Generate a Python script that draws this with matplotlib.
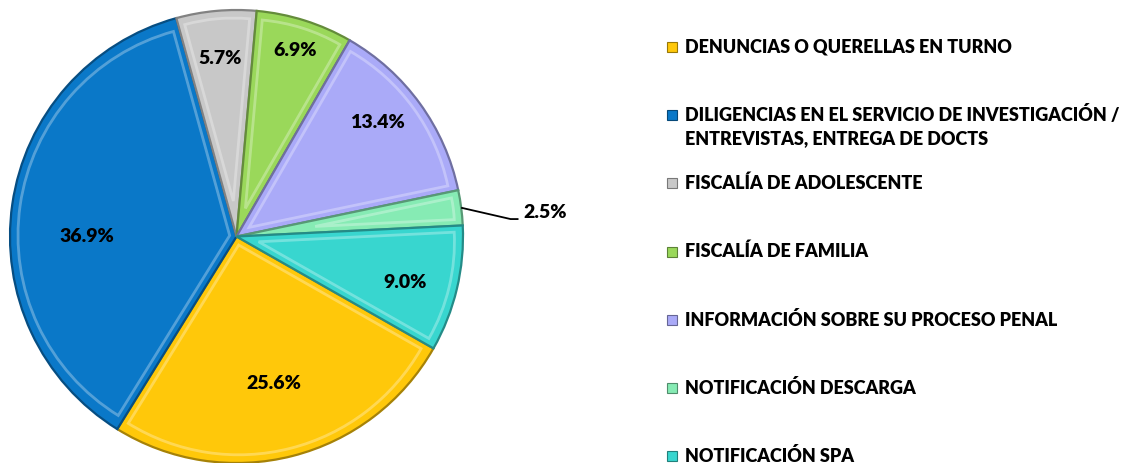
import numpy as np
import matplotlib.pyplot as plt
import matplotlib.colors as mcolors
from matplotlib.patches import Wedge, Rectangle

# Datos
categorias = [
    'DENUNCIAS O QUERELLAS EN TURNO',
    'DILIGENCIAS EN EL SERVICIO DE INVESTIGACIÓN /\nENTREVISTAS, ENTREGA DE DOCTS',
    'FISCALÍA DE ADOLESCENTE',
    'FISCALÍA DE FAMILIA',
    'INFORMACIÓN SOBRE SU PROCESO PENAL',
    'NOTIFICACIÓN DESCARGA',
    'NOTIFICACIÓN SPA',
]
porcentajes = [25.6, 36.9, 5.7, 6.9, 13.4, 2.5, 9.0]
colores = ['#FFC80A', '#0A78C8', '#C8C8C8', '#9AD85A', '#AAAAF8', '#86EBB4', '#38D6CF']

# Estilo
plt.rcParams['font.family'] = ['Lato', 'DejaVu Sans']

def assombrir(c, f=0.7):
    r, g, b = mcolors.to_rgb(c)
    return (r * f, g * f, b * f)

def eclaircir(c, f=0.45):
    r, g, b = mcolors.to_rgb(c)
    return (r + (1 - r) * f, g + (1 - g) * f, b + (1 - b) * f)

fig = plt.figure(figsize=(11.3, 4.63), dpi=100)
W, H = 1130, 463
cx, cy, rpx = 236.5, 236.5, 226.5
ax = fig.add_axes([(cx - rpx) / W, (H - cy - rpx) / H, 2 * rpx / W, 2 * rpx / H])

wedges, _ = ax.pie(porcentajes, colors=colores, startangle=-29.6, counterclock=False,
                   radius=1.0, wedgeprops=dict(linewidth=1.6))
ax.set_xlim(-1, 1)
ax.set_ylim(-1, 1)
ax.set_aspect('equal')
ax.axis('off')

# effet biseau approximatif
for w, c in zip(wedges, colores):
    w.set_edgecolor(assombrir(c, 0.65))
    mid = np.deg2rad((w.theta1 + w.theta2) / 2)
    demi = np.deg2rad(w.theta2 - w.theta1) / 2
    d = min(0.028 / np.sin(min(demi, np.pi / 2)), 0.35)
    hl = Wedge((d * np.cos(mid), d * np.sin(mid)), 0.965 - d,
               w.theta1, w.theta2, fill=False,
               edgecolor=mcolors.to_rgba(eclaircir(c, 0.5), 0.6), linewidth=2.0)
    ax.add_patch(hl)
    hl.set_clip_path(w)

# Étiquettes
rayons = [0.67, 0.66, 0.79, 0.86, 0.80, None, 0.77]
decal = [0, 8, 0, 0, 3, 0, -2]
for w, p, r, d in zip(wedges, porcentajes, rayons, decal):
    ang = np.deg2rad((w.theta1 + w.theta2) / 2 + d)
    if r is None:
        # étiquette extérieure avec ligne de rappel
        ax.plot([np.cos(ang), 1.21, 1.245], [np.sin(ang), 0.077, 0.077],
                color='black', lw=1.3, clip_on=False, solid_capstyle='butt')
        ax.text(1.265, 0.104, f'{p:.1f}%', ha='left', va='center', fontsize=14,
                fontweight='heavy', clip_on=False)
        continue
    ax.text(r * np.cos(ang), r * np.sin(ang), f'{p:.1f}%', ha='center', va='center',
            fontsize=14, fontweight='heavy')

# Leyenda manuelle
for i, (cat, c) in enumerate(zip(categorias, colores)):
    ypx = 47 + 68.2 * i
    fig.patches.append(Rectangle((667 / W, (H - ypx - 5) / H), 10 / W, 10 / H,
                                 transform=fig.transFigure, facecolor=c,
                                 edgecolor=assombrir(c, 0.6), linewidth=0.8))
    if '\n' in cat:
        fig.text(685 / W, (H - ypx + 10) / H, cat, ha='left', va='top', fontsize=13,
                 fontweight='heavy', linespacing=1.45)
    else:
        fig.text(685 / W, (H - ypx) / H, cat, ha='left', va='center', fontsize=13,
                 fontweight='heavy')

fig.savefig('out.png', dpi=100)
